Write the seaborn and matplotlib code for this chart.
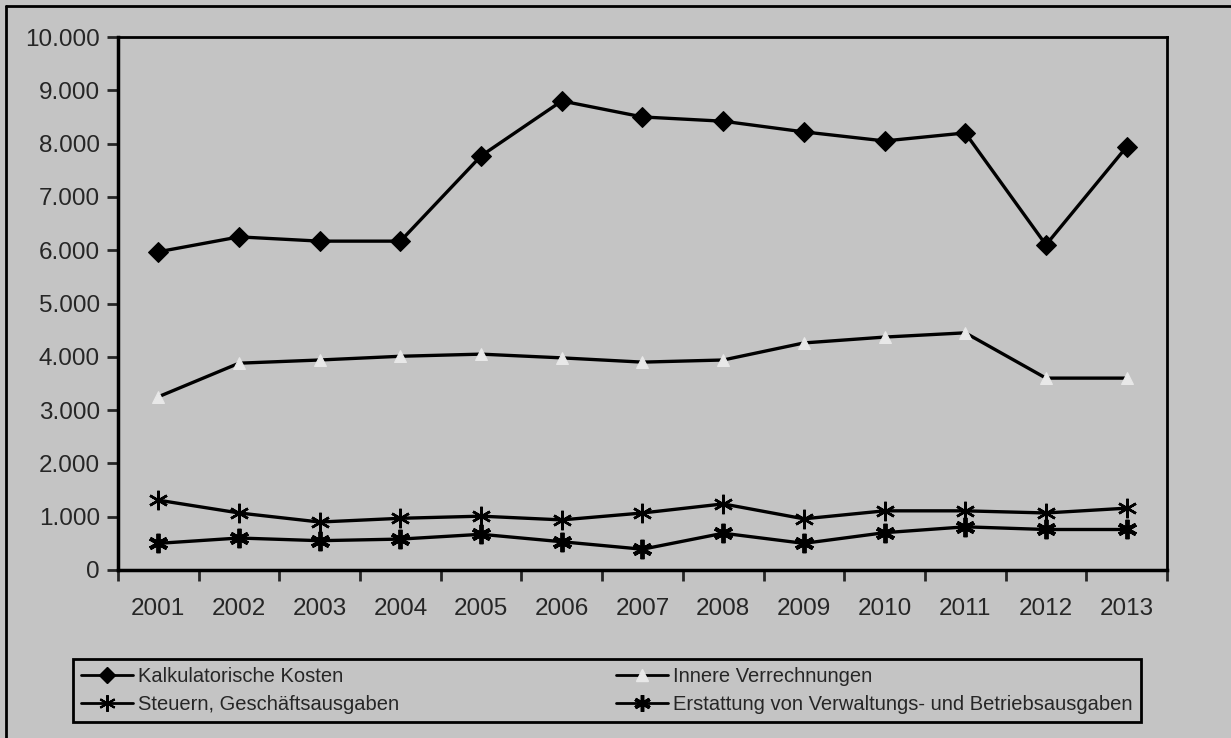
import numpy as np
import pandas as pd
import matplotlib
matplotlib.use("Agg")
import matplotlib.pyplot as plt
import seaborn as sns
from matplotlib.ticker import FuncFormatter, FixedLocator
from matplotlib.lines import Line2D

years = [str(y) for y in range(2001, 2014)]

kalk_kosten = [5970, 6250, 6170, 6170, 7770, 8800, 8500, 8420, 8220, 8050, 8200, 6100, 7940]
innere_verr = [3250, 3880, 3940, 4010, 4050, 3980, 3900, 3940, 4260, 4370, 4450, 3600, 3600]
steuern = [1310, 1070, 900, 970, 1010, 940, 1070, 1240, 960, 1110, 1110, 1070, 1160]
erstattung = [500, 600, 550, 580, 670, 530, 390, 690, 500, 700, 810, 760, 760]

labels = [
    "Kalkulatorische Kosten",
    "Innere Verrechnungen",
    "Steuern, Geschäftsausgaben",
    "Erstattung von Verwaltungs- und Betriebsausgaben",
]

sns.set_style("ticks")
plt.rcParams["font.family"] = ["Liberation Sans", "DejaVu Sans"]

bg = "#c4c4c4"
tri = "#e8e8e8"
fig = plt.figure(figsize=(12.31, 7.38), dpi=100, facecolor=bg)
ax = fig.add_axes([118 / 1231, 1 - 570 / 738, (1167 - 118) / 1231, (570 - 37) / 738])
ax.set_facecolor(bg)

x = np.arange(len(years))
df = pd.DataFrame({"x": x, "kalk": kalk_kosten, "inner": innere_verr,
                   "steuern": steuern, "erst": erstattung})

sns.lineplot(data=df, x="x", y="kalk", ax=ax, color="black", lw=2.4,
             marker="D", markersize=10, markeredgecolor="black", zorder=3)
sns.lineplot(data=df, x="x", y="inner", ax=ax, color="black", lw=2.4, zorder=3)
sns.lineplot(data=df, x="x", y="inner", ax=ax, color="black", lw=0,
             marker="^", markersize=9, markerfacecolor=tri,
             markeredgecolor=tri, zorder=4)
sns.lineplot(data=df, x="x", y="steuern", ax=ax, color="black", lw=2.4,
             marker=(6, 2, 0), markersize=14, markeredgewidth=1.8,
             markeredgecolor="black", zorder=3)
sns.lineplot(data=df, x="x", y="erst", ax=ax, color="black", lw=2.4,
             marker=(6, 2, 0), markersize=14, markeredgewidth=2.8,
             markeredgecolor="black", zorder=3)

ax.set_xlim(-0.5, len(years) - 0.5)
ax.set_ylim(0, 10000)
ax.set_yticks(np.arange(0, 10001, 1000))
ax.yaxis.set_major_formatter(FuncFormatter(lambda v, p: f"{int(v):,}".replace(",", ".")))
ax.set_xticks(x)
ax.set_xticklabels(years)
ax.xaxis.set_minor_locator(FixedLocator(np.arange(-0.5, len(years), 1.0)))
ax.tick_params(axis="x", which="major", length=0, labelsize=17.5, pad=20)
ax.tick_params(axis="x", which="minor", length=8, width=2, direction="out")
ax.tick_params(axis="y", length=8, width=2, labelsize=17.5, pad=5)
ax.set_xlabel("")
ax.set_ylabel("")
for s in ax.spines.values():
    s.set_color("black")
ax.spines["bottom"].set_linewidth(2.5)
ax.spines["left"].set_linewidth(2.5)
ax.spines["top"].set_linewidth(2)
ax.spines["right"].set_linewidth(2)

h_kalk = Line2D([], [], color="black", lw=2, marker="D", markersize=8)
h_inner = Line2D([], [], color="black", lw=2, marker="^", markersize=8,
                 markerfacecolor=tri, markeredgecolor=tri)
h_steu = Line2D([], [], color="black", lw=2, marker=(6, 2, 0), markersize=12, markeredgewidth=1.5)
h_erst = Line2D([], [], color="black", lw=2, marker=(6, 2, 0), markersize=12, markeredgewidth=2.5)
# legend fills column-wise, so order for row-wise reading
leg = fig.legend([h_kalk, h_steu, h_inner, h_erst],
                 [labels[0], labels[2], labels[1], labels[3]],
                 ncol=2, mode="expand",
                 bbox_to_anchor=(73 / 1231, 1 - 722 / 738, (1141 - 73) / 1231, (722 - 654) / 738),
                 loc="lower left", fontsize=14.5, frameon=True, fancybox=False,
                 handlelength=2.6, handletextpad=0.25, borderaxespad=0,
                 labelspacing=0.45, borderpad=0.4)
leg.get_frame().set_facecolor(bg)
leg.get_frame().set_edgecolor("black")
leg.get_frame().set_linewidth(2)
leg.get_frame().set_alpha(1)

fig.add_artist(Line2D([6 / 1231, 6 / 1231], [0, 1 - 6 / 738], transform=fig.transFigure,
                      color="black", lw=2))
fig.add_artist(Line2D([6 / 1231, 1], [1 - 6 / 738, 1 - 6 / 738], transform=fig.transFigure,
                      color="black", lw=2))

fig.savefig("out.png", dpi=100, facecolor=bg)
